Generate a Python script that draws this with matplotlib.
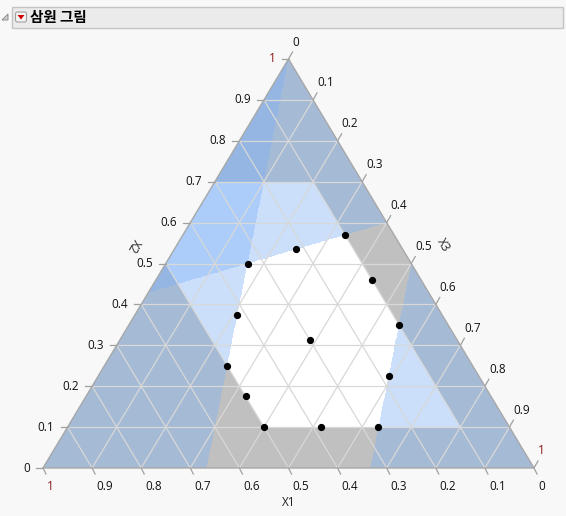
import numpy as np
import matplotlib.pyplot as plt
from matplotlib.patches import Polygon, FancyBboxPatch

plt.rcParams['font.family'] = ['Open Sans', 'DejaVu Sans']

# design points (X1, X2, X3)
x1_pts = [0.500, 0.383, 0.267, 0.183, 0.100, 0.100, 0.217, 0.333, 0.417, 0.500, 0.500, 0.300, 0.100]
x2_pts = [0.100, 0.100, 0.100, 0.225, 0.350, 0.570, 0.535, 0.500, 0.375, 0.250, 0.175, 0.312, 0.460]
x3_pts = [0.400, 0.517, 0.633, 0.592, 0.550, 0.330, 0.248, 0.167, 0.208, 0.250, 0.325, 0.388, 0.440]

ticks = [0, 0.1, 0.2, 0.3, 0.4, 0.5, 0.6, 0.7, 0.8, 0.9, 1]
tick_labels = ['0', '0.1', '0.2', '0.3', '0.4', '0.5', '0.6', '0.7', '0.8', '0.9', '1']

# constraint limits
x2_low, x2_high = 0.1, 0.7
x1_low, x1_high = 0.1, 0.5

BG = '#f8f8f8'
GRAY = np.array([192, 192, 192]) / 255
BLUE = np.array([126, 177, 247]) / 255
ALPHA = 0.4


def to_xy(a, b, c):
    a, b, c = np.asarray(a), np.asarray(b), np.asarray(c)
    return c + 0.5 * b, b


fig = plt.figure(figsize=(5.66, 5.16), dpi=100)
fig.patch.set_facecolor(BG)
W, H = 566, 516
ax = fig.add_axes([43 / W, (H - 468) / H, 491 / W, 409 / H])
ax.set_xlim(0, 1)
ax.set_ylim(0, 1)
ax.axis('off')
px = 1 / 491
py = 1 / 409

# shading of constraint regions
n = 900
X, Y = np.meshgrid(np.linspace(0, 1, n), np.linspace(0, 1, n))
x2 = Y
x3 = X - 0.5 * Y
x1 = 1 - x2 - x3
gray = (x2 < x2_low) | (x2 > x2_high) | (x1 < x1_low) | (x1 > x1_high)
nblue = ((x2 > 0.6 - 0.3 * x1).astype(int) + (x3 < x1 / 2).astype(int)
         + (x3 > 2 / 3 - x2 / 3).astype(int))
img = np.ones((n, n, 3))
img[gray] = GRAY
for k in range(1, 4):
    m = nblue >= k
    img[m] = img[m] * (1 - ALPHA) + BLUE * ALPHA
tri = Polygon([[0, 0], [1, 0], [0.5, 1]], closed=True, transform=ax.transData)
im = ax.imshow(img, origin='lower', extent=[0, 1, 0, 1], aspect='auto',
               interpolation='nearest', zorder=1)
im.set_clip_path(tri)

# grid
gc = '#d8d8d8'
for v in ticks[1:-1]:
    xa, ya = to_xy([v, v], [1 - v, 0], [0, 1 - v])
    ax.plot(xa, ya, color=gc, lw=0.9, zorder=2)
    xa, ya = to_xy([1 - v, 0], [v, v], [0, 1 - v])
    ax.plot(xa, ya, color=gc, lw=0.9, zorder=2)
    xa, ya = to_xy([1 - v, 0], [0, 1 - v], [v, v])
    ax.plot(xa, ya, color=gc, lw=0.9, zorder=2)
ax.plot([0, 1, 0.5, 0], [0, 0, 1, 0], color='#a8a8a8', lw=1.0, zorder=3, clip_on=False)

# ticks and labels
tc = '#a0a0a0'
fs = 8.5
for v, lab in zip(ticks, tick_labels):
    col = '#8b1a1a' if lab == '1' else '#111111'
    # X2 on left edge
    xl, yl = to_xy(1 - v, v, 0)
    ax.plot([xl - 7 * px, xl], [yl, yl], color=tc, lw=0.9, clip_on=False)
    ax.text(xl - 13 * px, yl, lab, ha='right', va='center', fontsize=fs, color=col)
    # X1 on bottom edge
    xb, yb = to_xy(v, 0, 1 - v)
    ax.plot([xb, xb + 3 * px], [yb, yb - 6 * py], color=tc, lw=0.9, clip_on=False)
    ax.text(xb + 4 * px, yb - 19 * py, lab, ha='left', va='center', fontsize=fs, color=col)
    # X3 on right edge
    xr, yr = to_xy(0, 1 - v, v)
    ax.plot([xr, xr + 4 * px], [yr, yr + 7 * py], color=tc, lw=0.9, clip_on=False)
    ax.text(xr + 4 * px, yr + 17 * py, lab, ha='left', va='center', fontsize=fs, color=col)

ax.text(0.5, -34 * py, 'X1', ha='center', va='center', fontsize=fs, color='#222222')
ax.text((133.6 - 43) * px, (468 - 245.5) * py, 'X2', ha='center', va='center',
        rotation=-120, fontsize=fs, color='#222222')
ax.text((443 - 43) * px, (468 - 245.5) * py, 'X3', ha='center', va='center',
        rotation=-60, fontsize=fs, color='#222222')

# points
xp, yp = to_xy(x1_pts, x2_pts, x3_pts)
ax.plot(xp, yp, 'o', color='black', ms=4.2, zorder=5)

# header bar
hdr = fig.add_axes([0, 0, 1, 1], zorder=-1)
hdr.set_xlim(0, W)
hdr.set_ylim(H, 0)
hdr.axis('off')
hdr.add_patch(plt.Rectangle((11.5, 6.5), 551, 21, facecolor='#ebebeb', edgecolor='#c4c4c4', lw=1))
hdr.add_patch(Polygon([[2, 20], [8, 14], [8, 20]], closed=True, facecolor='#d0d0d0',
                      edgecolor='#808080', lw=0.6))
hdr.add_patch(FancyBboxPatch((15.5, 12), 11, 10, boxstyle='round,pad=0,rounding_size=2',
                             facecolor='#f4f4f4', edgecolor='#a0a0a0', lw=0.8))
hdr.add_patch(Polygon([[17.5, 15], [24.5, 15], [21, 19.5]], closed=True, facecolor='#d00000',
                      edgecolor='none'))
hdr.text(30, 17, '삼원 그림', ha='left', va='center', fontsize=10.5, fontweight='bold',
         family=['Noto Sans CJK KR', 'DejaVu Sans'])

fig.savefig('out.png', dpi=100, facecolor=BG)
